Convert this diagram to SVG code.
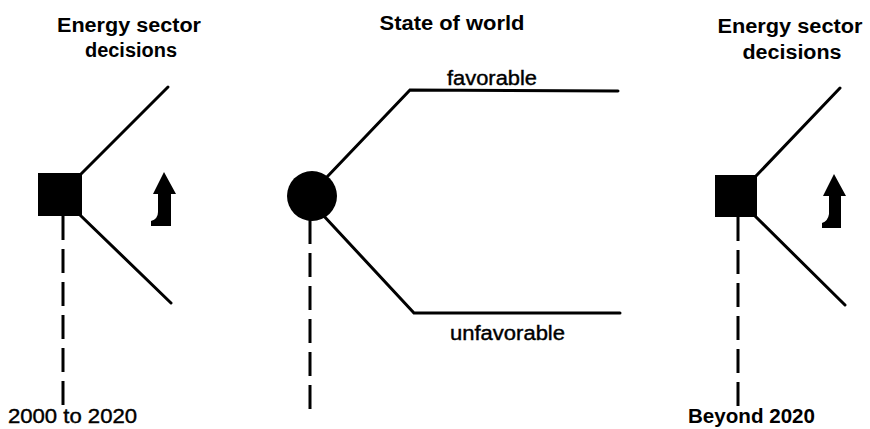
<svg xmlns="http://www.w3.org/2000/svg" width="870" height="429" viewBox="0 0 870 429">
<style>
.bg{fill:#fff}
.ln{stroke:#000;stroke-width:3;fill:none;stroke-linecap:round}
.dash{stroke:#000;stroke-width:3;fill:none;stroke-dasharray:24 9}
.nd{fill:#000}
.tb{font-family:"Liberation Sans",Arial,sans-serif;font-weight:bold;font-size:20px;fill:#000}
.tr{font-family:"Liberation Sans",Arial,sans-serif;font-size:20px;fill:#000;stroke:#000;stroke-width:0.4}
</style>
<rect class="bg" x="0" y="0" width="870" height="429"/>
<g id="connectors">
<line class="ln" x1="81" y1="174" x2="168" y2="87"/>
<line class="ln" x1="80" y1="215" x2="171" y2="303"/>
<line class="dash" x1="63" y1="216" x2="63" y2="413"/>
<polyline class="ln" points="326,178 410,90 618,91"/>
<polyline class="ln" points="322,214 414,313 620,313"/>
<line class="dash" x1="310" y1="220" x2="310" y2="409"/>
<line class="ln" x1="756" y1="176" x2="840" y2="88"/>
<line class="ln" x1="755" y1="216" x2="845" y2="305"/>
<line class="dash" x1="738" y1="217" x2="738" y2="408"/>
</g>
<g id="decision1">
<rect class="nd" x="38" y="173" width="44" height="43"/>
<text class="tb" x="129" y="32" text-anchor="middle" textLength="144" lengthAdjust="spacingAndGlyphs">Energy sector</text>
<text class="tb" x="131" y="57" text-anchor="middle" textLength="92" lengthAdjust="spacingAndGlyphs">decisions</text>
<text class="tr" x="8" y="423" textLength="129" lengthAdjust="spacingAndGlyphs">2000 to 2020</text>
</g>
<g id="arrow1">
<path class="nd" d="M164,172 L176,194 L171,194 L171,226 L151,226 L151,221 Q158,219 158,212 L158,194 L153,194 Z"/>
</g>
<g id="chance">
<circle class="nd" cx="312" cy="196" r="25"/>
<text class="tb" x="452" y="30" text-anchor="middle" textLength="145" lengthAdjust="spacingAndGlyphs">State of world</text>
<text class="tr" x="447" y="85" textLength="90" lengthAdjust="spacingAndGlyphs">favorable</text>
<text class="tr" x="450" y="340" textLength="115" lengthAdjust="spacingAndGlyphs">unfavorable</text>
</g>
<g id="decision2">
<rect class="nd" x="715" y="175" width="42" height="42"/>
<text class="tb" x="790" y="33" text-anchor="middle" textLength="145" lengthAdjust="spacingAndGlyphs">Energy sector</text>
<text class="tb" x="792" y="59" text-anchor="middle" textLength="99" lengthAdjust="spacingAndGlyphs">decisions</text>
<text class="tb" x="688" y="423" textLength="127" lengthAdjust="spacingAndGlyphs">Beyond 2020</text>
</g>
<g id="arrow2">
<path class="nd" d="M834,174 L846,196 L841,196 L841,228 L822,228 L822,223 Q828,221 829,214 L829,196 L823,196 Z"/>
</g>
</svg>
